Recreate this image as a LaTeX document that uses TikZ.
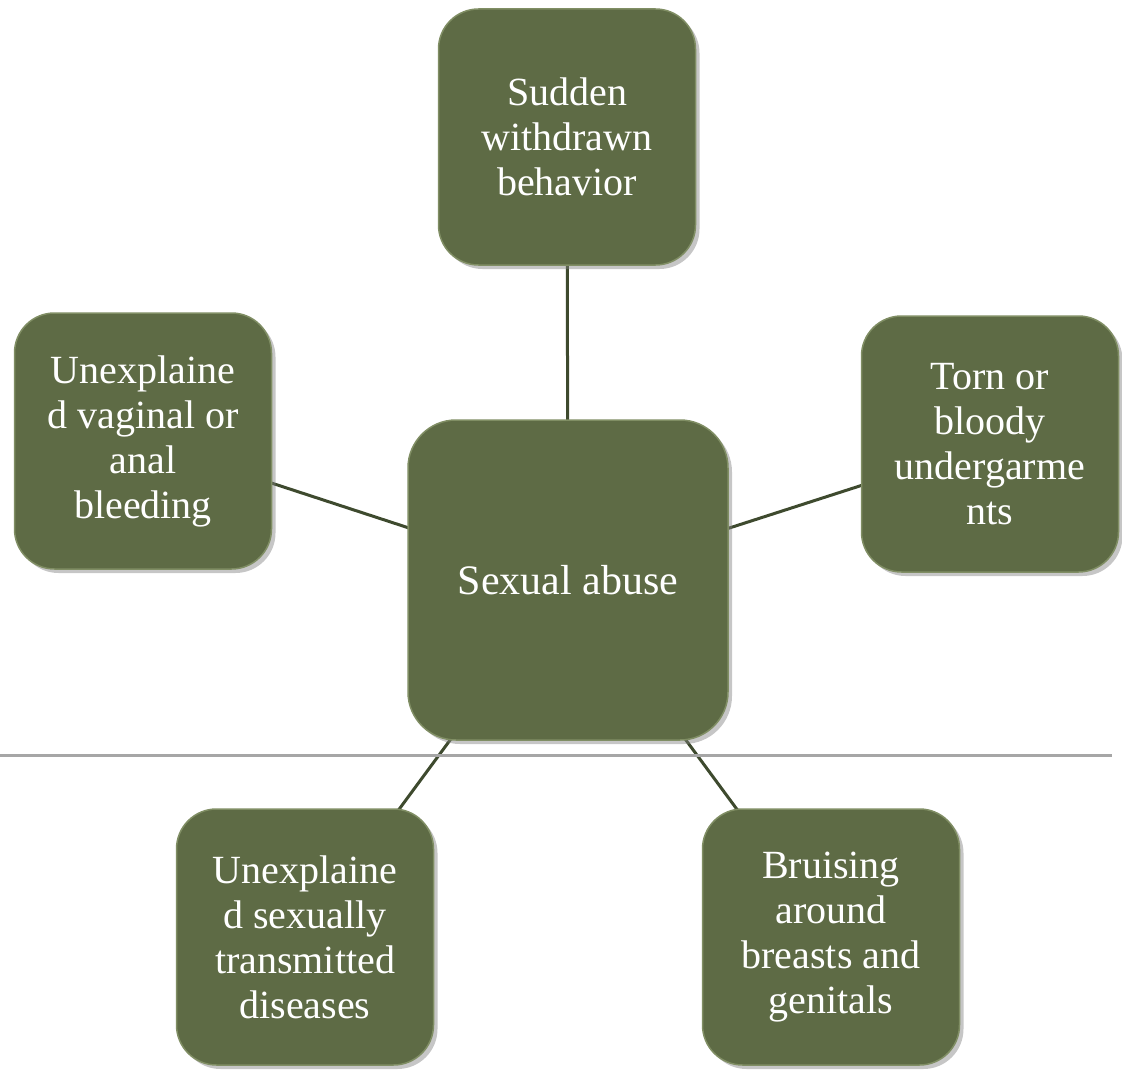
\documentclass[tikz,border=0pt]{standalone}
\usepackage{fontspec}
\setmainfont{Liberation Serif}
\usepackage{tikz}
\usetikzlibrary{
  positioning,
  shadows,
  backgrounds
}
\definecolor{BoxFill}{RGB}{94,107,69}
\definecolor{BoxRim}{RGB}{128,142,100}
\definecolor{LinkColor}{RGB}{62,74,46}
\definecolor{RuleGray}{RGB}{166,166,166}
\tikzset{
  % Central topic
  hub/.style={
    rectangle,
    rounded corners=48pt,
    fill=BoxFill,
    draw=BoxRim,
    line width=1.5pt,
    minimum width=320pt,
    minimum height=320pt,
    align=center,
    text=white,
    font=\fontsize{42}{46}\selectfont,
    drop shadow={opacity=0.45, shadow xshift=4pt, shadow yshift=-4pt}
  },
  % Surrounding sign
  sign/.style={
    hub,
    rounded corners=40pt,
    minimum width=257pt,
    minimum height=256pt,
    font=\fontsize{40}{45}\selectfont
  },
  % Connector
  link/.style={
    draw=LinkColor,
    line width=3pt
  },
  % Separator rule
  rule/.style={
    draw=RuleGray,
    line width=3pt
  }
}

\begin{document}
\begin{tikzpicture}[x=1pt, y=-1pt]
  \useasboundingbox (0,0) rectangle (1122,1070);
  \draw[rule] (0,755) -- (1112,755);

  \node[hub] (abuse) at (568,580) {Sexual abuse};
  \node[sign] (withdrawn) at (567,137) {Sudden\\withdrawn\\behavior};
  \node[sign] (bleeding) at (143,441) {Unexplaine\\d vaginal or\\anal\\bleeding};
  \node[sign] (torn) at (990,444) {Torn or\\bloody\\undergarme\\nts};
  \node[sign] (std) at (305,937) {Unexplaine\\d sexually\\transmitted\\diseases};
  \node[sign] (bruising) at (831,937) {Bruising\\around\\breasts and\\genitals};

  \begin{scope}[on background layer]
    \foreach \s in {withdrawn, bleeding, torn, std, bruising}
      \draw[link] (abuse.center) -- (\s.center);
  \end{scope}
\end{tikzpicture}
\end{document}
